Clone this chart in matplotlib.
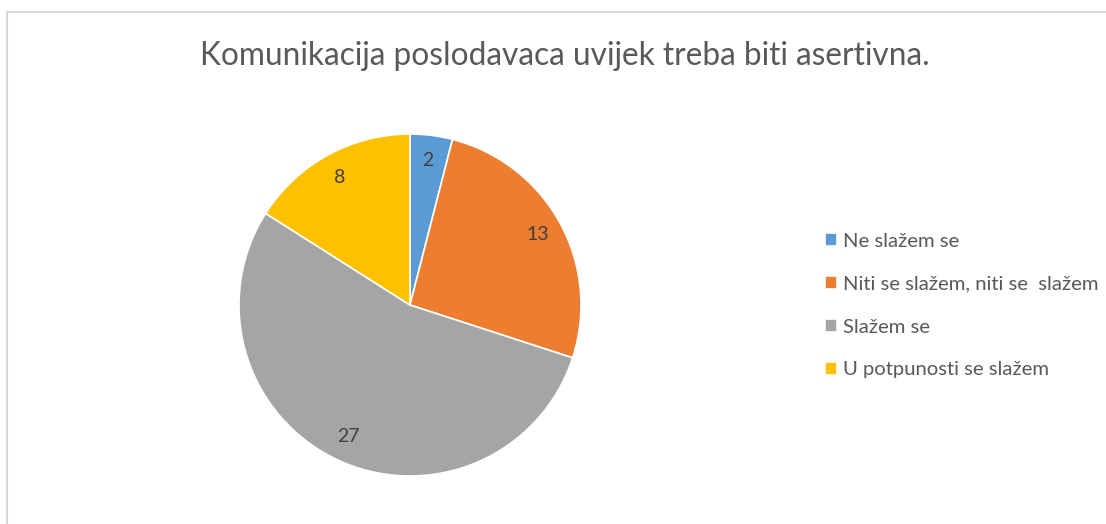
import matplotlib.pyplot as plt
from matplotlib.patches import Rectangle

title = "Komunikacija poslodavaca uvijek treba biti asertivna."
categories = ["Ne slažem se", "Niti se slažem, niti se  slažem",
              "Slažem se", "U potpunosti se slažem"]
values = [2, 13, 27, 8]
colors = ["#5B9BD5", "#ED7D31", "#A5A5A5", "#FFC000"]

plt.rcParams['font.family'] = ['Lato', 'DejaVu Sans']
text_color = "#595959"

W, H = 1106, 524
fig = plt.figure(figsize=(W / 100, H / 100), dpi=100)

# light grey chart border (runs off the right and bottom edge)
fig.patches.append(Rectangle((7 / W, -0.05), 1.2, (H - 12) / H + 0.05,
                             transform=fig.transFigure, fill=False,
                             edgecolor="#D9D9D9", linewidth=1.5))

cx, cy, r = 410, 305, 171
ax = fig.add_axes([(cx - r) / W, (H - cy - r) / H, 2 * r / W, 2 * r / H])
total = sum(values)
wedges, _, autotexts = ax.pie(values, colors=colors, startangle=90, counterclock=False,
                              autopct=lambda p: f"{round(p * total / 100)}",
                              pctdistance=0.85, radius=1,
                              wedgeprops=dict(edgecolor="white", linewidth=1.2),
                              textprops=dict(color="#404040", fontsize=14))
ax.set_xlim(-1, 1)
ax.set_ylim(-1, 1)
ax.set_aspect("equal")
ax.axis("off")

fig.text(565 / W, 1 - 56 / H, title, ha="center", va="center",
         fontsize=22.8, color=text_color)

fig.legend(wedges, categories, loc="upper left", bbox_to_anchor=(825 / W, 1 - 233 / H),
           frameon=False, fontsize=14.6, labelcolor=text_color,
           handlelength=0.6, handleheight=0.6, handletextpad=0.3,
           labelspacing=1.27, borderpad=0, borderaxespad=0)

fig.savefig("out.png", dpi=100)
